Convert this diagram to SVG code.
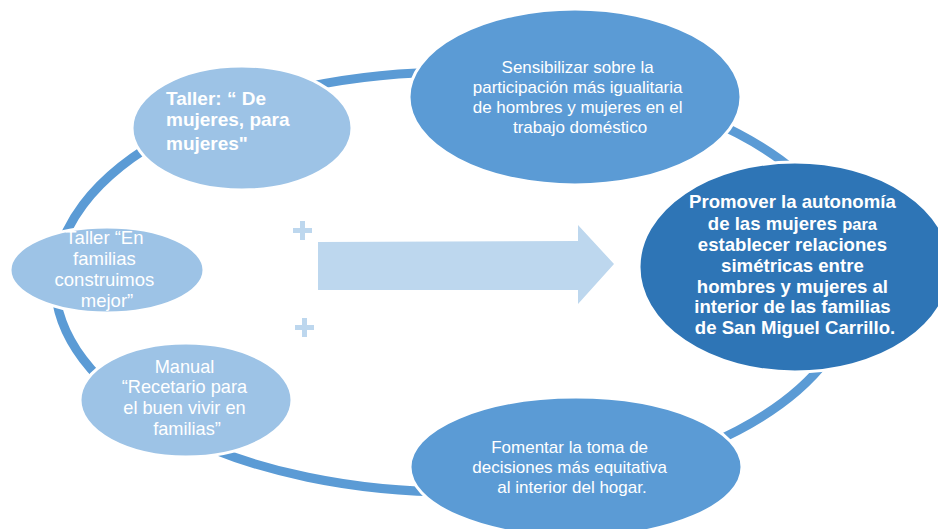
<svg xmlns="http://www.w3.org/2000/svg" width="938" height="529" viewBox="0 0 938 529">
  <style>
    .light { fill: #9dc3e6; stroke: #ffffff; stroke-width: 3; }
    .mid { fill: #5b9bd5; stroke: #ffffff; stroke-width: 3; }
    .dark { fill: #2e75b6; stroke: #ffffff; stroke-width: 3; }
    .t { font-family: "Liberation Sans", Arial, sans-serif; fill: #ffffff; }
    .reg { font-size: 17px; text-anchor: middle; }
    .bold { font-weight: bold; }
    .deco { fill: #bdd7ee; }
  </style>
  <rect width="938" height="529" fill="#ffffff"/>
  <g id="connectors">
    <ellipse cx="455" cy="282" rx="400" ry="210" fill="none" stroke="#5b9bd5" stroke-width="9"/>
  </g>
  <g id="node-taller-mujeres">
    <ellipse class="light" cx="242" cy="128" rx="110" ry="62"/>
    <text class="t bold" font-size="19" x="166">
      <tspan x="166" y="105">Taller: “ De</tspan>
      <tspan x="166" y="126">mujeres, para</tspan>
      <tspan x="166" y="150">mujeres"</tspan>
    </text>
  </g>
  <g id="node-sensibilizar">
    <ellipse class="mid" cx="575" cy="97" rx="166" ry="88"/>
    <text class="t reg">
      <tspan x="580" y="73">Sensibilizar sobre la</tspan>
      <tspan x="580" y="93">participación más igualitaria</tspan>
      <tspan x="580" y="113">de hombres y mujeres en el</tspan>
      <tspan x="580" y="133">trabajo doméstico</tspan>
    </text>
  </g>
  <g id="node-promover">
    <ellipse class="dark" cx="795" cy="267" rx="156" ry="105"/>
    <text class="t bold" font-size="18.6" text-anchor="middle">
      <tspan x="795" y="208">Promover la autonomía</tspan>
      <tspan x="795" y="230">de las mujeres <tspan font-size="16.5">para</tspan></tspan>
      <tspan x="795" y="251">establecer relaciones</tspan>
      <tspan x="795" y="272">simétricas entre</tspan>
      <tspan x="795" y="293">hombres y mujeres al</tspan>
      <tspan x="795" y="313">interior de las familias</tspan>
      <tspan x="795" y="334">de San Miguel Carrillo.</tspan>
    </text>
  </g>
  <g id="node-taller-familias">
    <ellipse class="light" cx="107" cy="270" rx="97" ry="43"/>
    <text class="t" font-size="18.5" text-anchor="middle">
      <tspan x="107" y="244">Taller “En</tspan>
      <tspan x="107" y="265">familias</tspan>
      <tspan x="107" y="286">construimos</tspan>
      <tspan x="107" y="307">mejor”</tspan>
    </text>
  </g>
  <g id="node-manual">
    <ellipse class="light" cx="186" cy="400" rx="106" ry="57"/>
    <text class="t" font-size="18.2" text-anchor="middle">
      <tspan x="187" y="373">Manual</tspan>
      <tspan x="187" y="393">“Recetario para</tspan>
      <tspan x="187" y="414">el buen vivir en</tspan>
      <tspan x="187" y="435">familias”</tspan>
    </text>
  </g>
  <g id="node-fomentar">
    <ellipse class="mid" cx="576" cy="467" rx="166" ry="70"/>
    <text class="t reg">
      <tspan x="572" y="453">Fomentar la toma de</tspan>
      <tspan x="572" y="473">decisiones más equitativa</tspan>
      <tspan x="572" y="493">al interior del hogar.</tspan>
    </text>
  </g>
  <g id="arrow">
    <polygon class="deco" points="318,242 578,241 578,225 614,264 578,304 578,290 318,290"/>
  </g>
  <g id="plus-signs">
    <path class="deco" d="M300,221 h5 v7 h7 v5 h-7 v7 h-5 v-7 h-7 v-5 h7 z"/>
    <path class="deco" d="M302,318 h5 v7 h7 v5 h-7 v7 h-5 v-7 h-7 v-5 h7 z"/>
  </g>
</svg>
